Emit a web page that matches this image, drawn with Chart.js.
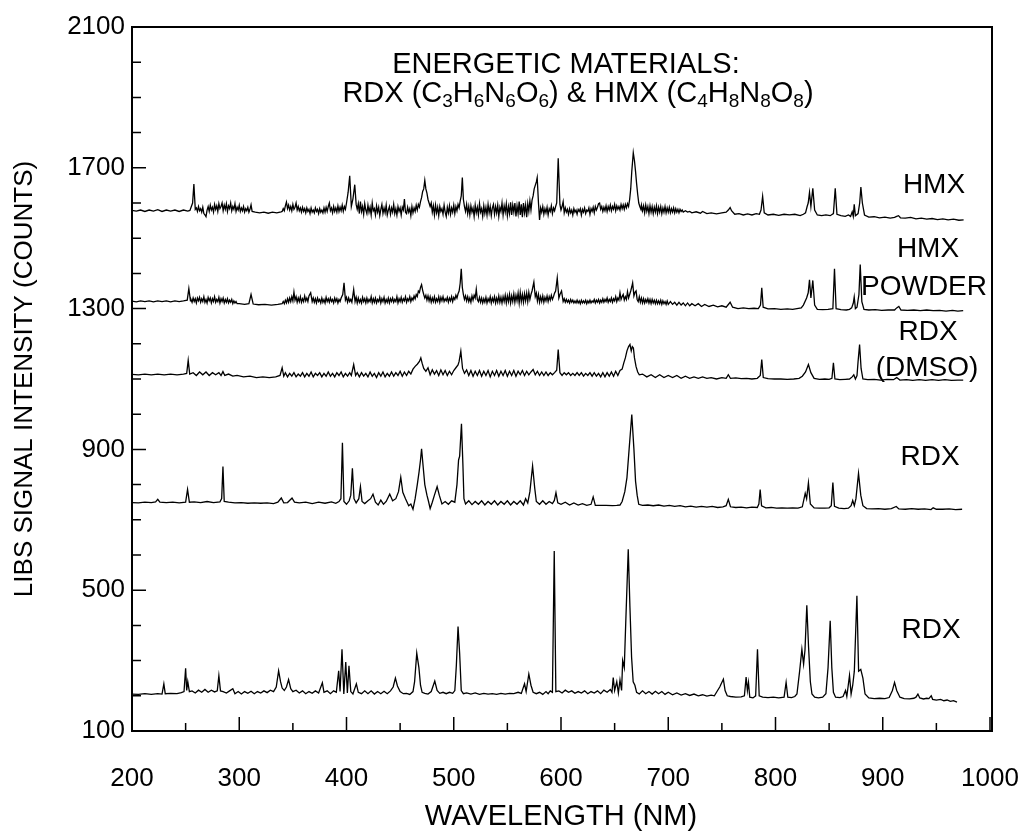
<!DOCTYPE html>
<html>
<head>
<meta charset="utf-8">
<script src="https://cdn.jsdelivr.net/npm/chart.js@4.4.0/dist/chart.umd.min.js"></script>
<style>
  html, body { margin: 0; padding: 0; background: #fff; }
  #wrap { width: 1025px; height: 834px; }
</style>
</head>
<body>
<div id="wrap"><canvas id="Cnvs" width="1025" height="834"></canvas></div>
<script>
// wavelength (nm), LIBS counts
var hmx = [[200,1579],[204,1577],[208,1580],[212,1576],[216,1580],[220,1577],[224,1581],[228,1576],[232,1580],[236,1577],[240,1580],[244,1576],[248,1580],[252,1577],[254,1579],[256.5,1600],[257.7,1654],[259,1582],
[260,1586],[261,1576],[262,1590],[263,1578],[264,1584],[265,1574],[266,1588],[267,1570],[268,1566],[269,1561],[270,1580],[271,1590],[272,1576],[273,1594],[274,1580],[275,1588],[276,1574],[277,1596],[278,1582],[279,1592],[280,1576],[281,1598],[282,1584],[283,1590],[284,1600],[285,1578],[286,1594],[287,1582],[288,1598],[289,1576],[290,1592],[291,1584],[292,1600],[293,1578],[294,1590],[295,1582],[296,1598],[297,1576],[298,1588],[299,1580],[300,1594],[301,1576],[302,1586],[303,1578],[304,1590],[305,1574],[306,1584],[307,1578],[308,1588],[309,1574],[310,1582],[311,1595],[312,1576],
[315,1574],[319,1572],[323,1574],[327,1571],[331,1574],[335,1572],[339,1575],
[340,1576],[341,1584],[342,1578],[343,1592],[344,1603],[345,1584],[346,1594],[347,1580],[348,1590],[349,1578],[350,1596],[351,1582],[352,1588],[353,1600],[354,1580],[355,1590],[356,1578],[357,1586],[358,1574],[359,1588],[360,1576],[361,1584],[362,1572],[363,1586],[364,1576],[365,1582],[366,1570],[367,1586],[368,1574],[369,1580],[370,1572],[371,1586],[372,1576],[373,1582],[374,1570],[375,1584],[376,1574],[377,1580],[378,1572],[379,1586],[380,1574],[381,1588],[382,1576],[383,1590],[384,1600],[385,1578],[386,1586],[387,1572],[388,1590],[389,1576],[390,1586],[391,1574],[392,1592],[393,1576],[394,1588],[395,1578],[396,1594],[397,1576],[398,1590],[399,1582],[400,1600],[401.5,1630],[403,1677],[404.5,1590],[406,1612],[407.7,1652],[409,1596],
[410,1582],[411,1598],[412,1570],[413,1604],[414,1576],[415,1590],[416,1568],[417,1598],[418,1580],[419,1570],[420,1594],[421,1574],[422,1588],[423,1566],[424,1600],[425,1578],[426,1584],[427,1566],[428,1592],[429,1574],[430,1588],[431,1564],[432,1582],[433,1596],[434,1570],[435,1586],[436,1572],[437,1594],[438,1566],[439,1580],[440,1590],[441,1568],[442,1586],[443,1574],[444,1596],[445,1570],[446,1584],[447,1566],[448,1590],[449,1576],[450,1586],[451,1566],[452,1588],[453,1580],[454,1611],[455,1574],[456,1570],[457,1588],[458,1574],[459,1584],[460,1564],[461,1590],[462,1572],[463,1586],[464,1576],[465,1594],[466,1580],[467,1596],[468,1588],[469,1604],
[470,1615],[471,1633],[472,1640],[473,1664],[474,1640],[475,1628],[476,1610],[477,1600],[478,1590],[479,1600],[480,1574],[481,1592],[482,1566],[483,1594],[484,1572],[485,1588],[486,1564],[487,1590],[488,1576],[489,1584],[490,1568],[491,1594],[492,1574],[493,1562],[494,1588],[495,1572],[496,1592],[497,1568],[498,1586],[499,1574],[500,1594],[501,1570],[502,1590],[503,1578],[504,1596],[505,1586],[506,1605],[507,1620],[508,1672],[509,1610],[510,1590],
[511,1576],[512,1596],[513,1570],[514,1590],[515,1566],[516,1592],[517,1574],[518,1586],[519,1562],[520,1594],[521,1572],[522,1588],[523,1566],[524,1598],[525,1574],[526,1584],[527,1562],[528,1592],[529,1570],[530,1588],[531,1566],[532,1596],[533,1572],[534,1590],[535,1564],[536,1586],[537,1596],[538,1568],[539,1590],[540,1572],[541,1594],[542,1562],[543,1588],[544,1576],[545,1600],[546,1566],[547,1592],[548,1574],[549,1598],[550,1564],[551,1590],[552,1570],[553,1602],[554,1566],[555,1594],[556,1574],[557,1600],[558,1562],[559,1592],[560,1570],[561,1604],[562,1566],[563,1596],[564,1560],[565,1600],[566,1572],[567,1594],[568,1560],[569,1598],[570,1576],[571,1606],[572,1580],[573,1608],[574,1620],[575,1640],[576,1650],[577,1660],[577.8,1672],[579,1600],[580,1552],[581,1586],[582,1574],[583,1590],[584,1568],[585,1584],[586,1572],[587,1588],[588,1566],[589,1584],[590,1576],[591,1592],[592,1570],[593,1586],[594,1578],[595,1590],[596,1600],[597.4,1727],[599,1596],[600,1580],[601,1590],[602,1604],[603,1572],
[604,1586],[605,1574],[606,1582],[607,1568],[608,1584],[609,1572],[610,1580],[611,1566],[612,1584],[613,1574],[614,1580],[615,1568],[616,1582],[617,1576],[618,1584],[619,1566],[620,1582],[621,1574],[622,1586],[623,1570],[624,1580],[625,1576],[626,1586],[627,1568],[628,1584],[629,1576],[630,1588],[631,1572],[632,1590],[633,1580],[634,1588],[635,1598],[636,1600],[637,1582],[638,1590],[639,1576],[640,1588],[641,1578],[642,1592],[643,1576],[644,1590],[645,1580],[646,1594],[647,1578],[648,1590],[649,1582],[650,1596],[651,1578],[652,1592],[653,1582],[654,1590],[655,1580],[656,1596],[657,1584],[658,1595],[659,1582],[660,1596],[661,1586],[662,1598],[663,1590],[664,1610],[665,1640],[666,1690],[667.4,1743],[668.5,1720],[669.5,1690],[670.5,1655],[671.5,1625],[672.5,1600],[673.5,1590],[674.5,1582],
[675,1594],[676,1578],[677,1592],[678,1572],[679,1594],[680,1576],[681,1590],[682,1570],[683,1592],[684,1574],[685,1590],[686,1570],[687,1588],[688,1574],[689,1592],[690,1570],[691,1588],[692,1574],[693,1590],[694,1570],[695,1586],[696,1574],[697,1590],[698,1572],[699,1586],[700,1574],[701,1588],[702,1572],[703,1584],[704,1574],[705,1586],[706,1572],[707,1584],[708,1574],[709,1582],[710,1572],[711,1582],[712,1576],[713,1580],[714,1574],[716,1578],[718,1574],[720,1576],[722,1572],
[726,1575],[730,1571],[732,1576],[736,1570],[740,1572],[745,1569],[750,1572],[754,1574],[756,1580],[757.7,1587],[759,1578],[762,1568],[766,1570],[770,1566],[774,1569],[778,1566],[782,1570],[785,1568],[786.5,1580],[788,1619],[789.5,1572],[793,1566],[798,1568],[803,1565],[808,1568],[813,1566],[818,1568],[823,1564],[826,1568],[828,1572],[829.5,1590],[830.5,1600],[831.7,1630],[833,1590],[834.8,1642],[836.5,1580],[839,1566],[843,1564],[847,1566],[851,1564],[854,1570],[855.7,1642],[857.3,1568],[861,1564],[865,1562],[868,1566],[870,1562],[871.5,1575],[872.5,1562],[873.4,1596],[874.5,1564],[877,1570],[878.5,1600],[879.6,1645],[881,1600],[883,1566],[887,1560],[892,1561],[897,1558],[902,1560],[907,1557],[911,1559],[913,1562],[914.7,1564],[916.5,1558],[921,1557],[926,1559],[931,1555],[936,1557],[941,1554],[946,1556],[951,1553],[956,1555],[961,1552],[966,1554],[971,1551],[975.4,1552]];

var hmxPowder = [[200,1321],[204,1319],[208,1322],[212,1320],[216,1322],[220,1319],[224,1322],[228,1320],[232,1322],[236,1319],[240,1322],[244,1320],[248,1322],[251.5,1324],[253,1357],[254.5,1322],
[255,1326],[256,1318],[257,1330],[258,1320],[259,1328],[260,1316],[261,1330],[262,1322],[263,1332],[264,1318],[265,1328],[266,1320],[267,1334],[268,1318],[269,1326],[270,1316],[271,1332],[272,1322],[273,1330],[274,1316],[275,1328],[276,1320],[277,1334],[278,1318],[279,1326],[280,1320],[281,1332],[282,1316],[283,1328],[284,1320],[285,1330],[286,1316],[287,1326],[288,1318],[289,1328],[290,1316],[291,1324],[292,1318],[293,1326],[294,1314],[295,1322],[296,1316],[297,1320],[298,1314],[300,1314],
[305,1312],[309,1314],[311,1340],[313,1313],[318,1311],[324,1312],[330,1310],[336,1312],[340,1314],
[341,1320],[342,1314],[343,1324],[344,1316],[345,1328],[346,1318],[347,1330],[348,1320],[349,1334],[350,1322],[351,1347],[352,1324],[353,1334],[354,1318],[355,1330],[356,1320],[357,1334],[358,1318],[359,1328],[360,1320],[361,1336],[362,1322],[363,1330],[364,1320],[365,1336],[366.6,1345],[368,1320],[369,1330],[370,1318],[371,1328],[372,1316],[373,1330],[374,1320],[375,1326],[376,1316],[377,1330],[378,1318],[379,1326],[380,1316],[381,1332],[382,1320],[383,1328],[384,1318],[385,1330],[386,1320],[387,1326],[388,1316],[389,1330],[390,1320],[391,1328],[392,1316],[393,1326],[394,1320],[395,1330],[396.5,1340],[397.7,1373],[399,1324],
[400,1332],[401,1318],[402,1330],[403,1320],[404,1326],[405,1318],[406.7,1354],[408,1320],[409,1332],[410,1316],[411,1330],[412,1318],[413,1326],[414,1316],[415,1332],[416,1320],[417,1328],[418,1316],[419,1330],[420,1318],[421,1326],[422,1320],[423,1334],[424,1316],[425,1328],[426,1318],[427,1330],[428,1316],[429,1326],[430,1320],[431,1332],[432,1316],[433,1328],[434,1320],[435,1332],[436,1316],[437,1326],[438,1318],[439,1330],[440,1316],[441,1328],[442,1320],[443,1330],[444,1318],[445,1326],[446,1320],[447,1334],[448,1316],[449,1328],[450,1320],[451,1332],[452,1318],[453,1328],[454,1322],[455,1334],[456,1318],[457,1328],[458,1322],[459,1334],[460,1320],[461,1330],[462,1324],[463,1336],[464,1328],[465,1340],[466,1334],[467,1350],[468,1346],[469,1360],[470,1368],[471,1352],[472,1340],[473,1330],[474,1338],[475,1324],[476,1336],[477,1322],[478,1334],[479,1318],[480,1330],[481,1320],[482,1334],[483,1318],[484,1328],[485,1320],[486,1334],[487,1318],[488,1332],[489,1322],[490,1334],[491,1320],[492,1328],[493,1322],[494,1332],[495,1318],[496,1330],[497,1322],[498,1334],[499,1320],[500,1332],[501,1326],[502,1338],[503,1330],[504,1342],[505,1350],[506,1372],[507,1413],[508,1360],[509,1340],[510,1326],
[511,1336],[512,1322],[513,1334],[514,1320],[515,1330],[516,1318],[517,1336],[518,1324],[519,1338],[520,1330],[521,1355],[522,1326],[523,1320],[524,1332],[525,1318],[526,1330],[527,1316],[528,1328],[529,1318],[530,1332],[531,1316],[532,1328],[533,1320],[534,1334],[535,1316],[536,1330],[537,1320],[538,1334],[539,1316],[540,1330],[541,1318],[542,1336],[543,1318],[544,1332],[545,1316],[546,1334],[547,1320],[548,1338],[549,1316],[550,1336],[551,1320],[552,1340],[553,1316],[554,1336],[555,1320],[556,1342],[557,1318],[558,1338],[559,1322],[560,1344],[561,1316],[562,1346],[563,1320],[564,1340],[565,1318],[566,1342],[567,1322],[568,1344],[569,1320],[570,1346],[571,1326],[572,1340],[573,1350],[574.7,1375],[576,1334],[577,1344],[578,1322],[579,1340],[580,1318],[581,1334],[582,1320],[583,1336],[584,1318],[585,1332],[586,1322],[587,1336],[588,1320],[589,1334],[590,1324],[591,1338],[592,1326],[593,1334],[594,1344],[595,1350],[596.5,1387],[598,1330],[599,1340],[600.5,1350],[602,1320],
[603,1328],[604,1318],[605,1326],[606,1318],[607,1324],[608,1316],[609,1326],[610,1318],[611,1324],[612,1316],[613,1322],[614,1316],[615,1324],[616,1316],[617,1322],[618,1314],[619,1324],[620,1316],[621,1322],[622,1316],[623,1324],[624,1314],[625,1322],[626,1316],[627,1324],[628,1316],[629,1322],[630,1318],[631,1326],[632,1316],[633,1324],[634,1318],[635,1326],[636,1316],[637,1324],[638,1318],[639,1328],[640,1318],[641,1326],[642,1320],[643,1330],[644,1318],[645,1326],[646,1320],[647,1330],[648,1318],[649,1328],[650,1322],[651,1334],[652,1320],[653,1330],[654,1324],[655,1345],[656,1326],[657,1334],[658,1340],[659,1324],[660,1334],[661,1326],[662,1348],[663,1330],[664,1340],[665,1350],[666,1362],[666.8,1373],[668,1336],[669,1346],[670,1350],[671,1326],[672,1320],[673,1334],[674,1318],[675,1330],[676,1316],[677,1328],[678,1316],[679,1326],[680,1318],[681,1328],[682,1316],[683,1326],[684,1314],[685,1326],[686,1316],[687,1324],[688,1314],[689,1324],[690,1314],[691,1322],[692,1314],[693,1324],[694,1312],[695,1322],[696,1314],[697,1320],[698,1312],[699,1322],[700,1312],[702,1320],[704,1312],[706,1318],[708,1310],[710,1318],[712,1310],[714,1316],[716,1308],[718,1316],[720,1308],[722,1314],[725,1308],[728,1314],[731,1306],[734,1312],[738,1306],[742,1310],[746,1305],[750,1308],[754,1304],[757.7,1318],
[760,1304],[765,1300],[770,1302],[775,1300],[780,1301],[784,1300],[786,1310],[787.2,1359],[788.5,1304],[793,1299],[799,1300],[805,1298],[811,1299],[816,1298],[820,1300],[824,1302],[826,1310],[829,1330],[830.5,1345],[831.7,1382],[833,1330],[834.8,1380],[836.5,1310],[839,1298],[844,1297],[849,1298],[853.5,1300],[855,1413],[856.5,1300],[861,1297],[866,1296],[869,1298],[871,1302],[872.5,1315],[873.4,1333],[874.5,1300],[876,1304],[877.8,1340],[879,1425],[880.5,1320],[882.5,1298],[887,1296],[893,1297],[899,1295],[905,1296],[911,1296],[913,1302],[915,1306],[917,1296],[923,1295],[929,1296],[935,1294],[941,1296],[947,1294],[953,1295],[959,1293],[965,1295],[970,1293],[975,1294]];

var rdxDmso = [[200,1113],[206,1112],[212,1114],[218,1112],[224,1114],[230,1112],[236,1114],[242,1112],[248,1114],[251,1116],[252.4,1153],[253.8,1114],[257,1118],[260,1110],[263,1120],[266,1112],[269,1120],[272,1110],[275,1118],[278,1112],[281,1118],[283,1110],[284.8,1121],[286.5,1110],[290,1114],[294,1108],[298,1110],[304,1106],[310,1108],[316,1104],[322,1106],[328,1104],[334,1106],[338,1110],
[340,1132],[341.5,1108],[343,1118],[345,1106],[347,1116],[349,1108],[351,1118],[353,1106],[355,1114],[357,1108],[359,1118],[361,1106],[363,1116],[365,1108],[367,1120],[369,1106],[371,1116],[373,1110],[375,1118],[377,1106],[379,1116],[381,1108],[383,1120],[385,1108],[387,1116],[389,1106],[391,1118],[393,1110],[395,1120],[397,1106],[399,1116],[401,1108],[403,1118],[404.5,1110],[406.7,1141],[408.5,1110],[410,1118],[412,1106],[414,1118],[416,1108],[418,1116],[420,1106],[422,1120],[424,1108],[426,1116],[428,1104],[430,1118],[432,1108],[434,1120],[436,1106],[438,1116],[440,1108],[442,1120],[444,1108],[446,1118],[448,1110],[450,1122],[452,1108],[454,1120],[456,1110],[458,1122],[460,1114],[462,1128],[464,1136],[466,1142],[468,1150],[469.3,1160],[470.5,1145],[472,1130],[474,1122],[476,1132],[478,1112],[480,1126],[482,1114],[484,1124],[486,1110],[488,1126],[490,1112],[492,1124],[494,1110],[496,1122],[498,1112],[500,1124],[502,1132],[504,1140],[505,1150],[506.6,1179],[508.2,1130],[510,1116],[512,1126],[514,1110],[516,1124],[518,1108],[520,1122],[522,1110],[524,1124],[526,1108],[528,1122],[530,1110],[532,1124],[534,1106],[536,1122],[538,1110],[540,1124],[542,1108],[544,1122],[546,1110],[548,1124],[550,1108],[552,1122],[554,1110],[556,1124],[558,1108],[560,1122],[562,1112],[564,1124],[566,1110],[568,1122],[570,1112],[572,1120],[574,1127],[576,1112],[578,1122],[580,1110],[582,1120],[584,1110],[586,1120],[588,1110],[590,1118],[592,1112],[594,1118],[596,1125],[597.4,1184],[599,1118],[601,1110],[603,1118],[605,1112],[607,1118],[609,1110],[611,1116],[613,1110],[615,1118],[617,1110],[619,1118],[621,1108],[623,1116],[625,1110],[627,1118],[629,1108],[631,1118],[633,1108],[635,1116],[637,1106],[639,1118],[641,1106],[643,1118],[645,1108],[647,1120],[649,1108],[651,1122],[653,1110],[655,1124],[657,1128],[658.5,1145],[660,1160],[661.5,1180],[663,1192],[664.3,1198],[665.5,1180],[666.5,1192],[667.5,1188],[668.5,1160],[670,1135],[671.5,1120],[673,1112],
[676,1114],[680,1106],[684,1112],[688,1104],[692,1112],[696,1104],[700,1110],[704,1104],[708,1110],[712,1102],[716,1108],[720,1102],[724,1106],[728,1102],[732,1106],[736,1102],[740,1104],[745,1100],[750,1104],[754,1102],[756,1112],[758,1102],[763,1103],[768,1101],[773,1102],[778,1100],[783,1102],[785.8,1110],[787.2,1155],[788.6,1104],[793,1101],[799,1100],[805,1100],[811,1099],[817,1100],[822,1102],[825,1108],[828,1120],[830.7,1141],[833,1118],[836,1102],[841,1099],[846,1100],[850,1099],[852.6,1102],[854,1146],[855.4,1100],[860,1098],[865,1099],[869,1100],[871.5,1106],[873,1112],[874.5,1100],[876,1110],[877,1150],[878.4,1198],[879.8,1130],[881.5,1100],[886,1098],[892,1099],[898,1097],[904,1099],[910,1098],[913,1104],[916,1097],[922,1098],[928,1096],[934,1098],[940,1096],[946,1098],[952,1096],[958,1098],[964,1096],[970,1097],[975,1097]];

var rdxMid = [[200,749],[206,748],[212,750],[218,749],[222,751],[224,758],[226,750],[232,749],[238,750],[244,748],[250,750],[251.8,786],[253.5,750],[258,751],[264,749],[270,752],[276,749],[282,751],[283.6,760],[284.8,851],[286,752],[290,750],[296,748],[302,749],[308,747],[314,748],[320,747],[326,748],[332,746],[336,750],[339.2,762],[341.5,748],[345,749],[349.2,762],[351.5,750],[356,748],[362,750],[368,746],[374,750],[380,747],[386,751],[390,747],[393,752],[394.8,760],[396.2,919],[397.6,752],[400,744],[402.5,754],[404,770],[405.5,846],[407,760],[409,748],[411.5,760],[413,794],[414.5,752],[417,746],[420,754],[422.5,760],[424.7,773],[427,750],[429.5,742],[432,756],[434.5,744],[437,752],[440.3,773],[443,754],[446,760],[448.5,780],[450.6,821],[452.5,778],[455,760],[458,740],[460,745],[462,730],[464,760],[466,800],[467.7,837],[469,870],[470,902],[471.5,850],[473,800],[475,770],[476.5,752],[478,732],[480,750],[482,770],[484.5,794],[486.5,770],[489,745],[492,752],[495,744],[498,754],[501,750],[503,800],[504.5,870],[505.5,881],[507.2,973],[508.5,860],[509.5,760],[511,745],[514,754],[517,743],[520,752],[523,744],[526,754],[529,742],[532,752],[535,744],[538,754],[541,742],[544,752],[547,744],[550,754],[553,742],[556,752],[559,744],[562,754],[565,742],[567,760],[569,748],[571,780],[573.5,853],[575.5,790],[577,752],[580,744],[583,754],[586,744],[589,752],[592,746],[593.8,755],[595.3,777],[597,748],[600,744],[604,750],[608,742],[612,748],[616,742],[620,746],[624,741],[628,744],[630,765],[632,741],[636,741],[642,741],[648,740],[652,741],[655,742],[657,752],[659.5,780],[661.5,820],[663.5,900],[666,999],[668,900],[669.5,810],[671,770],[672.5,744],[676,741],[681,742],[686,740],[691,742],[696,739],[701,741],[706,738],[711,740],[716,737],[721,739],[726,736],[731,738],[736,736],[741,738],[746,735],[751,737],[754,740],[756,758],[758,737],[763,735],[768,736],[773,734],[778,736],[783,735],[784.5,745],[785.7,786],[787,740],[791,734],[796,735],[801,733],[806,734],[811,733],[816,734],[821,733],[825,737],[827.7,775],[829,760],[830.7,805],[832.5,745],[836,734],[841,733],[846,733],[850,734],[852,740],[853.5,806],[855,738],[859,733],[864,732],[868,733],[870.5,740],[872,755],[873.5,740],[875,760],[877.4,832],[879.5,770],[881.5,740],[885,732],[890,731],[896,732],[902,730],[908,732],[912.6,738],[915,731],[921,730],[927,732],[933,730],[939,731],[945,729],[947,734],[950,730],[956,730],[962,731],[968,729],[974,730]];

var rdxLow = [[200,205],[206,204],[212,206],[218,204],[224,206],[228,205],[229.7,234],[231,206],[236,207],[242,206],[246,209],[248.5,212],[250,278],[251,215],[252,240],[253.5,212],[256,214],[259,208],[262,216],[265,210],[268,218],[271,210],[274,216],[277,211],[279.5,214],[281,257],[282.5,214],[285,212],[288,208],[291,214],[294,220],[296,206],[299,212],[302,205],[305,212],[308,207],[311,213],[314,206],[317,212],[320,208],[323,214],[326,209],[329,216],[332,212],[334.5,225],[336.7,271],[338.5,240],[340,222],[342,215],[344,225],[346,246],[348,220],[350,212],[353,216],[356,208],[359,214],[362,206],[365,212],[368,207],[371,214],[374,208],[377.5,237],[379,210],[382,214],[385,206],[388,214],[390.5,210],[392.7,271],[394,212],[395.8,332],[397.5,205],[399.3,296],[400.8,208],[402.3,285],[404,212],[406,205],[409.2,234],[411,210],[414,206],[417,214],[420,206],[423,214],[426,205],[429,212],[432,206],[435,213],[438,206],[441,214],[443.5,225],[445.6,250],[447.5,228],[450,212],[453,206],[456,207],[459,204],[462,212],[463.5,240],[465.5,321],[467.5,280],[469,230],[470.5,210],[473,207],[476,205],[479,212],[482.3,242],[484.5,215],[487,207],[490,210],[493,206],[496,210],[499,207],[501,215],[502.4,285],[504,397],[505.5,320],[507,215],[509,206],[512,208],[516,205],[520,208],[524,204],[528,207],[532,205],[536,206],[540,204],[544,207],[548,205],[552,207],[556,206],[560,210],[563,207],[566,234],[567.5,212],[570,262],[572,230],[574,210],[577,206],[580,210],[583,204],[586,212],[588,206],[590,214],[592,210],[593.7,611],[595.2,212],[598,214],[601,208],[604,216],[607,210],[610,214],[613,207],[616,212],[619,208],[622,214],[625,206],[628,212],[631,208],[634,214],[637,206],[640,216],[643,210],[646,218],[647.5,210],[648.7,252],[650,215],[652,240],[653.5,208],[655,245],[656.5,215],[657.5,300],[659,280],[660.5,420],[662.7,616],[664.3,450],[665.8,310],[667.3,240],[668.9,230],[670.5,210],[673,205],[676,214],[679,206],[682,212],[685,205],[688,213],[691,206],[694,212],[697,204],[700,210],[704,203],[708,208],[712,202],[716,206],[720,201],[724,205],[728,200],[732,203],[736,199],[740,202],[743,200],[746,215],[748,225],[749.5,235],[751.4,247],[753,215],[755,200],[758,198],[763,196],[768,197],[771,200],[772.6,253],[773.8,215],[774.8,238],[776,196],[779,194],[781.5,200],[783.2,332],[784.8,200],[788,196],[793,195],[798,196],[803,194],[808,196],[809.9,238],[811.5,196],[815,195],[818,198],[820,205],[822.5,270],[824.6,332],[826.2,290],[827.5,330],[829.2,457],[830.8,340],[832.5,240],[834,205],[836.5,196],[840,194],[844,196],[847,206],[849,280],[851,413],[852.5,280],[854,210],[856,196],[860,195],[863,198],[865.3,215],[866.5,198],[869,258],[870.5,205],[872,230],[873.5,270],[875.9,484],[877.5,270],[879.5,275],[881.5,250],[883.5,205],[887,194],[892,192],[897,193],[902,192],[906,195],[909,215],[911,238],[913,215],[916,196],[920,192],[925,191],[929,193],[931,196],[932.8,205],[934.5,194],[938,191],[941,193],[943,192],[945.2,200],[946.5,190],[950,188],[954,190],[957,186],[960,188],[963,184],[966,186],[969.2,182]];

var xMajorTicks = [200, 300, 400, 500, 600, 700, 800, 900, 1000];
var xMinorTicks = [250, 350, 450, 550, 650, 750, 850, 950];
var yMajorTicks = [100, 500, 900, 1300, 1700, 2100];
var yMinorTicks = [200, 300, 400, 600, 700, 800, 1000, 1100, 1200, 1400, 1500, 1600, 1800, 1900, 2000];

var FONT = 'Liberation Sans, Arial, Helvetica, sans-serif';

function toXY(arr) {
  return arr.map(function(p) { return {x: p[0], y: p[1]}; });
}

function spectrum(label, arr) {
  return {
    label: label,
    data: toXY(arr),
    showLine: true,
    borderColor: '#000',
    borderWidth: 1.3,
    pointRadius: 0,
    tension: 0
  };
}

// frame, inward ticks, curve labels and the two-line title
var decor = {
  id: 'decor',
  afterDraw: function(chart) {
    var ctx = chart.ctx, a = chart.chartArea;
    var sx = chart.scales.x, sy = chart.scales.y;
    ctx.save();
    ctx.strokeStyle = '#000';
    ctx.lineWidth = 1.5;
    ctx.beginPath();
    xMajorTicks.forEach(function(v) { var p = sx.getPixelForValue(v); ctx.moveTo(p, a.bottom); ctx.lineTo(p, a.bottom - 14); });
    xMinorTicks.forEach(function(v) { var p = sx.getPixelForValue(v); ctx.moveTo(p, a.bottom); ctx.lineTo(p, a.bottom - 8); });
    yMajorTicks.forEach(function(v) { var p = sy.getPixelForValue(v); ctx.moveTo(a.left, p); ctx.lineTo(a.left + 14, p); });
    yMinorTicks.forEach(function(v) { var p = sy.getPixelForValue(v); ctx.moveTo(a.left, p); ctx.lineTo(a.left + 9, p); });
    ctx.stroke();
    ctx.lineWidth = 2;
    ctx.strokeRect(a.left, a.top, a.right - a.left + 2, a.bottom - a.top);

    ctx.fillStyle = '#000';
    ctx.textAlign = 'center';
    ctx.textBaseline = 'alphabetic';
    ctx.font = '28px ' + FONT;
    var labels = [['HMX', 934, 193], ['HMX', 928, 257], ['POWDER', 924, 295], ['RDX', 928, 340],
                  ['(DMSO)', 927, 376], ['RDX', 930, 465], ['RDX', 931, 638]];
    labels.forEach(function(l) { ctx.fillText(l[0], l[1], l[2]); });

    ctx.font = '29px ' + FONT;
    ctx.fillText('ENERGETIC MATERIALS:', 566, 73);

    // second line with subscripted digits
    var parts = [['RDX (C',0],['3',1],['H',0],['6',1],['N',0],['6',1],['O',0],['6',1],[') & HMX (C',0],
                 ['4',1],['H',0],['8',1],['N',0],['8',1],['O',0],['8',1],[')',0]];
    var big = '29px ' + FONT, small = '19px ' + FONT;
    var w = 0;
    parts.forEach(function(p) { ctx.font = p[1] ? small : big; w += ctx.measureText(p[0]).width; });
    var x = 578 - w / 2;
    ctx.textAlign = 'left';
    parts.forEach(function(p) {
      ctx.font = p[1] ? small : big;
      ctx.fillText(p[0], x, p[1] ? 107 : 102);
      x += ctx.measureText(p[0]).width;
    });
    ctx.restore();
  }
};

var Cnvs = document.getElementById('Cnvs').getContext('2d');
var chart = new Chart(Cnvs, {
  type: 'scatter',
  data: {
    datasets: [
      spectrum('HMX', hmx),
      spectrum('HMX POWDER', hmxPowder),
      spectrum('RDX (DMSO)', rdxDmso),
      spectrum('RDX', rdxMid),
      spectrum('RDX', rdxLow)
    ]
  },
  options: {
    responsive: false,
    animation: false,
    devicePixelRatio: 1,
    layout: { padding: { left: 0, right: 35, top: 27, bottom: 0 } },
    plugins: { legend: { display: false }, tooltip: { enabled: false } },
    scales: {
      x: {
        type: 'linear',
        min: 200,
        max: 1000,
        afterBuildTicks: function(s) { s.ticks = xMajorTicks.map(function(v) { return {value: v}; }); },
        afterFit: function(s) { s.height = 103; s.paddingLeft = 0; s.paddingRight = 0; },
        grid: { display: false, drawTicks: false },
        border: { display: false },
        ticks: { color: '#000', font: { family: FONT, size: 26 }, padding: 32, maxRotation: 0,
                 callback: function(v) { return String(v); } },
        title: { display: true, text: 'WAVELENGTH (NM)', color: '#000', font: { family: FONT, size: 29 }, padding: { top: 0, bottom: 0 } }
      },
      y: {
        type: 'linear',
        min: 100,
        max: 2100,
        afterBuildTicks: function(s) { s.ticks = yMajorTicks.map(function(v) { return {value: v}; }); },
        afterFit: function(s) { s.width = 132; },
        grid: { display: false, drawTicks: false },
        border: { display: false },
        ticks: { color: '#000', font: { family: FONT, size: 26 }, padding: 7,
                 callback: function(v) { return String(v); } },
        title: { display: true, text: 'LIBS SIGNAL INTENSITY (COUNTS)', color: '#000', font: { family: FONT, size: 26 }, padding: { top: 9, bottom: 0 } }
      }
    }
  },
  plugins: [decor]
});
</script>
</body>
</html>
